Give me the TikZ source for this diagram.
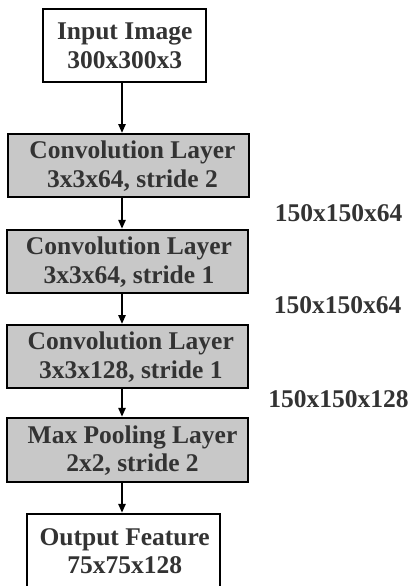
\documentclass[tikz,border=0pt]{standalone}
\usepackage{fontspec}
\setmainfont{Liberation Serif}
\usetikzlibrary{arrows.meta}
\definecolor{txtgray}{HTML}{333333}
\definecolor{boxgray}{HTML}{C8C8C8}
\tikzset{
  boxbase/.style={draw=black, line width=2.2pt, inner sep=0pt, minimum width=241pt},
  whitebox/.style={boxbase, fill=white, minimum height=72.4pt},
  graybox/.style={boxbase, fill=boxgray, minimum height=62.6pt},
  txt/.style={align=center, text=txtgray, inner sep=0pt, font=\bfseries\fontsize{25.5pt}{28.5pt}\selectfont},
  arr/.style={line width=2.5pt, -{Triangle[length=9pt,width=7pt]}},
}
\begin{document}
\begin{tikzpicture}[x=1pt,y=-1pt]
\useasboundingbox (0,0) rectangle (413,586);
% boxes
\node[whitebox, minimum width=162.7pt] (in) at (124.7,45.5) {};
\node[txt] (intxt) at (124.7,46) {Input Image\\300x300x3};
\node[graybox] (c1) at (128.8,165.5) {};
\node[txt] (c1txt) at (132.5,166) {Convolution Layer\\3x3x64, stride 2};
\node[graybox] (c2) at (127.8,261.3) {};
\node[txt] (c2txt) at (129,262) {Convolution Layer\\3x3x64, stride 1};
\node[graybox] (c3) at (127.5,356.5) {};
\node[txt] (c3txt) at (130.8,357) {Convolution Layer\\3x3x128, stride 1};
\node[graybox, minimum height=64pt] (mp) at (127.5,450) {};
\node[txt] (mptxt) at (132.5,450.5) {Max Pooling Layer\\2x2, stride 2};
\node[whitebox, minimum width=192.7pt, minimum height=78pt] (out) at (123.7,553) {};
\node[txt] (outtxt) at (124.7,551) {Output Feature\\75x75x128};
% side labels
\node[txt] (l1) at (338.5,213) {150x150x64};
\node[txt] (l2) at (337.5,305) {150x150x64};
\node[txt] (l3) at (338.5,399) {150x150x128};
% connectors
\coordinate (ax) at (122,0);
\draw[arr] (in.south -| ax) -- (c1.north -| ax);
\draw[arr] (c1.south -| ax) -- (c2.north -| ax);
\draw[arr] (c2.south -| ax) -- (c3.north -| ax);
\draw[arr] (c3.south -| ax) -- (mp.north -| ax);
\draw[arr] (mp.south -| ax) -- (out.north -| ax);
\end{tikzpicture}
\end{document}
